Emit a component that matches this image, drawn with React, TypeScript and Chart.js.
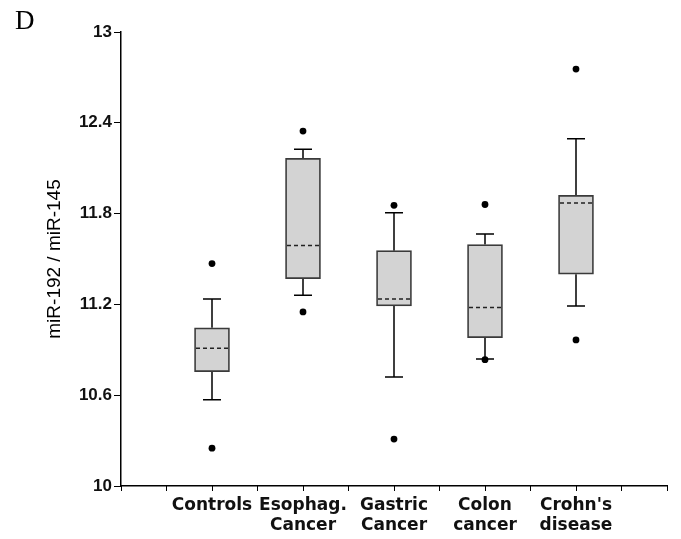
import React, { useEffect, useRef } from "react";
import { Chart, registerables } from "chart.js";

Chart.register(...registerables);

const categories: string[][] = [
  ["Controls"],
  ["Esophag.", "Cancer"],
  ["Gastric", "Cancer"],
  ["Colon", "cancer"],
  ["Crohn's", "disease"],
];
const whiskerLow = [10.57, 11.26, 10.72, 10.84, 11.19];
const q1 = [10.755, 11.37, 11.19, 10.98, 11.4];
const median = [10.91, 11.59, 11.235, 11.18, 11.87];
const q3 = [11.045, 12.165, 11.555, 11.595, 11.92];
const whiskerHigh = [11.235, 12.225, 11.805, 11.665, 12.295];
const outliersLow = [10.25, 11.15, 10.31, 10.835, 10.965];
const outliersHigh = [11.47, 12.345, 11.855, 11.86, 12.755];
const yTicks = [10, 10.6, 11.2, 11.8, 12.4, 13];
const xTickCount = 12; // axis divided into 12 intervals, a category every second tick

const posOf = (i: number) => 2 * (i + 1);

const boxPlugin = {
  id: "boxWhiskers",
  beforeDatasetsDraw(chart: any) {
    const { ctx, scales } = chart;
    const xs = scales.x;
    const ys = scales.y;
    ctx.save();
    ctx.strokeStyle = "#000";
    ctx.lineWidth = 1.5;
    categories.forEach((_, i) => {
      const x = xs.getPixelForValue(posOf(i));
      const segs: [number, number][] = [
        [q3[i], whiskerHigh[i]],
        [q1[i], whiskerLow[i]],
      ];
      segs.forEach(([a, b]) => {
        const ya = ys.getPixelForValue(a);
        const yb = ys.getPixelForValue(b);
        ctx.beginPath();
        ctx.moveTo(x, ya);
        ctx.lineTo(x, yb);
        ctx.moveTo(x - 9, yb);
        ctx.lineTo(x + 9, yb);
        ctx.stroke();
      });
    });
    ctx.restore();
  },
  afterDatasetsDraw(chart: any) {
    const { ctx, scales } = chart;
    const xs = scales.x;
    const ys = scales.y;
    ctx.save();
    ctx.strokeStyle = "#222";
    ctx.lineWidth = 1.5;
    ctx.setLineDash([4, 3]);
    categories.forEach((_, i) => {
      const x = xs.getPixelForValue(posOf(i));
      const y = ys.getPixelForValue(median[i]);
      ctx.beginPath();
      ctx.moveTo(x - 16, y);
      ctx.lineTo(x + 16, y);
      ctx.stroke();
    });
    ctx.restore();
  },
  afterDraw(chart: any) {
    const { ctx, scales } = chart;
    const xs = scales.x;
    ctx.save();
    ctx.strokeStyle = "#000";
    ctx.lineWidth = 1;
    xs.ticks.forEach((_: any, k: number) => {
      const x = Math.floor(xs.getPixelForTick(k)) + 0.5;
      ctx.beginPath();
      ctx.moveTo(x, xs.top);
      ctx.lineTo(x, xs.top + 5);
      ctx.stroke();
    });
    ctx.restore();
  },
};

export default function App() {
  const ref = useRef<HTMLCanvasElement | null>(null);
  useEffect(() => {
    if (!ref.current) return;
    const outliers = [
      ...outliersLow.map((v, i) => ({ x: posOf(i), y: v })),
      ...outliersHigh.map((v, i) => ({ x: posOf(i), y: v })),
    ];
    const chart = new Chart(ref.current, {
      type: "bar",
      data: {
        datasets: [
          {
            type: "bar",
            data: categories.map((_, i) => ({ x: posOf(i), y: [q1[i], q3[i]] })) as any,
            backgroundColor: "#d3d3d3",
            borderColor: "#3a3a3a",
            borderWidth: 1.7,
            borderSkipped: false,
            barThickness: 35,
          } as any,
          {
            type: "scatter",
            data: outliers,
            pointRadius: 3.4,
            pointBackgroundColor: "#000",
            pointBorderWidth: 0,
          } as any,
        ],
      },
      options: {
        animation: false,
        responsive: false,
        devicePixelRatio: 1,
        layout: { padding: { top: 32, right: 14, left: 0, bottom: 0 } },
        plugins: { legend: { display: false }, tooltip: { enabled: false } },
        scales: {
          x: {
            type: "linear",
            min: 0,
            max: xTickCount,
            offset: false,
            afterBuildTicks: (s: any) => {
              s.ticks = Array.from({ length: xTickCount + 1 }, (_, k) => ({ value: k }));
            },
            afterFit: (s: any) => {
              s.height = 53;
            },
            ticks: {
              autoSkip: false,
              maxRotation: 0,
              padding: 4,
              color: "#111",
              font: { family: "DejaVu Sans", weight: "bold", size: 17, lineHeight: 1.2 },
              callback: (v: any) => {
                const idx = categories.findIndex((_, i) => posOf(i) === v);
                return idx >= 0 ? categories[idx] : "";
              },
            },
            grid: { drawOnChartArea: false, drawTicks: true, tickLength: 5, color: "#000", lineWidth: 1, offset: false },
            border: { display: true, color: "#000", width: 1.5 },
          } as any,
          y: {
            type: "linear",
            min: 10,
            max: 13,
            beginAtZero: false,
            afterBuildTicks: (s: any) => {
              s.ticks = yTicks.map((v) => ({ value: v }));
            },
            afterFit: (s: any) => {
              s.width = 121;
            },
            ticks: {
              padding: 2,
              color: "#111",
              font: { family: "Liberation Sans", weight: "bold", size: 17 },
              callback: (v: any) => String(Math.round(v * 10) / 10),
            },
            title: {
              display: true,
              text: "miR-192 / miR-145",
              color: "#000",
              font: { family: "Liberation Sans", size: 19 },
              padding: { top: 43, bottom: 0 },
            },
            grid: { drawOnChartArea: false, drawTicks: true, tickLength: 7, color: "#000", lineWidth: 1 },
            border: { display: true, color: "#000", width: 1.5 },
          } as any,
        },
      },
      plugins: [boxPlugin],
    });
    return () => chart.destroy();
  }, []);

  return (
    <div style={{ position: "fixed", left: 0, top: 0, width: 681, height: 539, background: "#fff" }}>
      <canvas ref={ref} width={681} height={539} style={{ display: "block" }} />
      <div
        style={{
          position: "absolute",
          left: 15,
          top: 7,
          fontFamily: "'Liberation Serif', serif",
          fontSize: 27,
          lineHeight: "26px",
          color: "#000",
        }}
      >
        D
      </div>
    </div>
  );
}
